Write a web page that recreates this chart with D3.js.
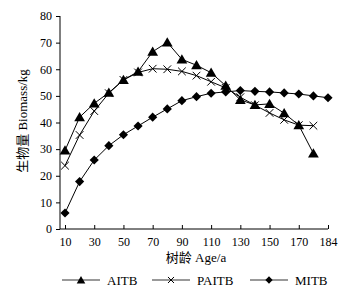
<!DOCTYPE html>
<html><head><meta charset="utf-8">
<script src="https://cdn.jsdelivr.net/npm/d3@7"></script>
<style>body{margin:0;background:#fff;} text{font-family:"Liberation Serif","Times New Roman",serif;}</style>
</head><body><svg id="c" width="347" height="300"></svg>
<script>
const ages = ["10","20","30","40","50","60","70","80","90","100","110","120","130","140","150","160","170","180","184"];
const tickLabels = ["10","30","50","70","90","110","130","150","170","184"];
const yTicks = [0,10,20,30,40,50,60,70,80];
const AITB  = [29.5,42,47.2,51.2,56,59.1,66.6,70.1,63.7,61.5,58.7,53.8,48.5,46.6,47,43.5,39,28.4];
const PAITB = [23.8,35.3,44.3,51,56,58.8,60.2,60,59.2,57.6,55.3,53,49.5,46.5,43.6,41,39,38.8];
const MITB  = [6,17.8,25.9,31.3,35.4,38.7,42,45.1,48.2,49.7,51,51.5,52,51.7,51.5,51.1,50.7,50,49.3];

const svg = d3.select("#c");
const x = d3.scalePoint().domain(ages).range([65, 328]);
const y = d3.scaleLinear().domain([0, 80]).range([229, 16]);
const axisLeft = 60;

// Y axis
const ya = svg.append("g").attr("transform", `translate(${axisLeft},0)`)
  .call(d3.axisLeft(y).tickValues(yTicks).tickSize(4).tickPadding(4));
ya.select(".domain").attr("d", `M0,${y(80)}V${y(0)}`).attr("stroke","#000");
ya.selectAll("text").style("font-size","12px").style("font-family","Liberation Serif").attr("fill","#000");
ya.selectAll("line").attr("stroke","#000");

// X axis
const xa = svg.append("g").attr("transform", `translate(0,${y(0)})`)
  .call(d3.axisBottom(x).tickValues(tickLabels).tickSize(-4).tickPadding(8));
xa.select(".domain").attr("d", `M${axisLeft},0H${x("184")}`).attr("stroke","#000");
xa.selectAll("text").style("font-size","12px").style("font-family","Liberation Serif").attr("fill","#000");
xa.selectAll("line").attr("stroke","#000");

// titles
svg.append("text").attr("x", 196).attr("y", 262).attr("text-anchor","middle")
  .style("font-size","13px")
  .html('<tspan style="font-family:\'Noto Sans CJK SC\'">树龄</tspan> Age/a');
svg.append("text").attr("transform","translate(27,121) rotate(-90)").attr("text-anchor","middle")
  .style("font-size","13px")
  .html('<tspan style="font-family:\'Noto Sans CJK SC\'">生物量</tspan> Biomass/kg');

const triangle = d3.symbol().type(d3.symbolTriangle).size(50);
const diamond = d3.symbol().type(d3.symbolSquare).size(42);
const cross = d3.symbol().type(d3.symbolX).size(40);

const series = [
  {name:"AITB", data:AITB, sym:"tri"},
  {name:"PAITB", data:PAITB, sym:"x"},
  {name:"MITB", data:MITB, sym:"dia"}
];
function drawMarker(g, s, cx, cy, scale) {
  scale = scale || 1;
  if (s === "tri") g.append("path").attr("d", d3.symbol().type(d3.symbolTriangle).size(50*scale*scale)())
      .attr("transform",`translate(${cx},${cy+1})`).attr("fill","#000");
  else if (s === "dia") g.append("path").attr("d", d3.symbol().type(d3.symbolSquare).size(42*scale*scale)())
      .attr("transform",`translate(${cx},${cy}) rotate(45)`).attr("fill","#000");
  else g.append("path").attr("d", d3.symbol().type(d3.symbolX).size(40*scale*scale)())
      .attr("transform",`translate(${cx},${cy})`).attr("fill","none").attr("stroke","#000").attr("stroke-width",1);
}
const line = d3.line().x((d,i)=>x(ages[i])).y(d=>y(d));
series.forEach(s => {
  svg.append("path").datum(s.data).attr("d", line).attr("fill","none").attr("stroke","#000").attr("stroke-width",1);
});
series.forEach(s => {
  const g = svg.append("g");
  s.data.forEach((d,i) => drawMarker(g, s.sym, x(ages[i]), y(d)));
});

// legend
const legX = [62, 152, 250];
const leg = svg.append("g");
series.forEach((s,i) => {
  const lx = legX[i], ly = 280;
  leg.append("line").attr("x1",lx).attr("x2",lx+38).attr("y1",ly).attr("y2",ly).attr("stroke","#777").attr("stroke-width",1.5);
  drawMarker(leg, s.sym, lx+19, ly, 0.8);
  leg.append("text").attr("x", lx+45).attr("y", ly+4.5).style("font-size","13px").text(s.name);
});
</script></body></html>
